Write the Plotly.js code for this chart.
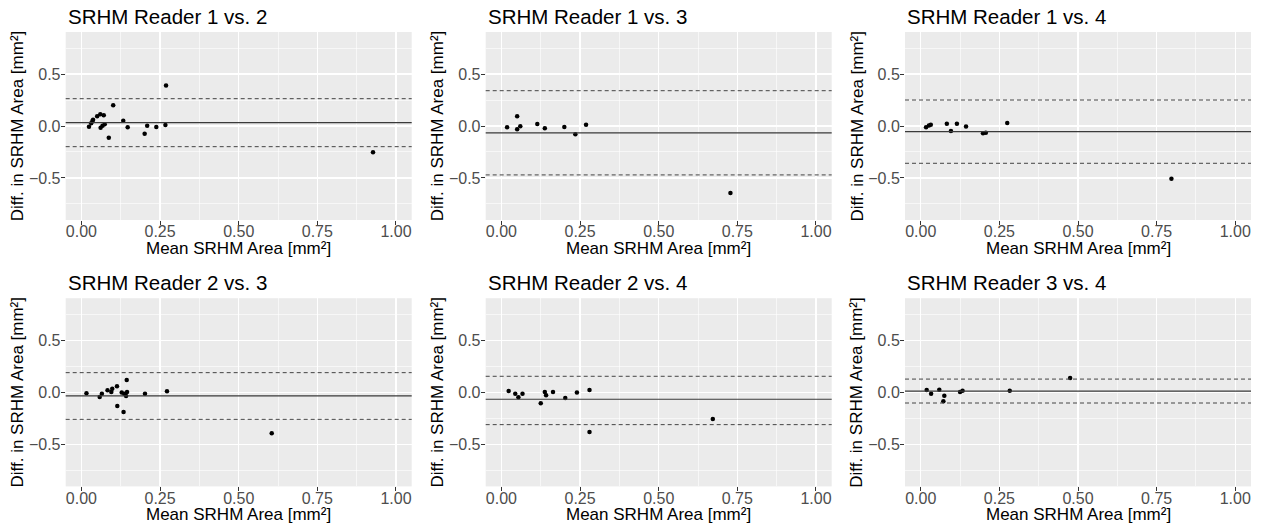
<!DOCTYPE html>
<html>
<head>
<meta charset="utf-8">
<script src="https://cdn.plot.ly/plotly-3.0.1.min.js"></script>
<style>html,body{margin:0;padding:0;background:#fff;}#chart{width:1263px;height:529px;}</style>
</head>
<body>
<div id="chart"></div>
<script>
// ---- Data (x = mean area, y = difference) ----
const panelTitles = ["SRHM Reader 1 vs. 2", "SRHM Reader 1 vs. 3", "SRHM Reader 1 vs. 4",
                     "SRHM Reader 2 vs. 3", "SRHM Reader 2 vs. 4", "SRHM Reader 3 vs. 4"];

const mean12 = [0.024, 0.031, 0.035, 0.037, 0.050, 0.060, 0.071, 0.101, 0.061, 0.067, 0.074, 0.087, 0.133, 0.147, 0.201, 0.209, 0.238, 0.267, 0.269, 0.927];
const diff12 = [-0.007, 0.026, 0.048, 0.061, 0.093, 0.112, 0.103, 0.199, -0.016, 0.003, 0.016, -0.112, 0.051, -0.013, -0.074, 0.003, -0.010, 0.010, 0.391, -0.253];

const mean13 = [0.018, 0.050, 0.050, 0.060, 0.114, 0.138, 0.200, 0.235, 0.269, 0.728];
const diff13 = [-0.013, 0.093, -0.032, -0.003, 0.019, -0.022, -0.010, -0.080, 0.013, -0.644];

const mean14 = [0.017, 0.026, 0.032, 0.083, 0.096, 0.115, 0.144, 0.198, 0.207, 0.275, 0.797];
const diff14 = [-0.013, 0.006, 0.013, 0.022, -0.048, 0.022, -0.006, -0.071, -0.064, 0.029, -0.507];

const mean23 = [0.016, 0.058, 0.065, 0.083, 0.095, 0.098, 0.113, 0.114, 0.128, 0.134, 0.136, 0.142, 0.144, 0.145, 0.202, 0.272, 0.605];
const diff23 = [-0.010, -0.045, -0.013, 0.019, 0.003, 0.035, 0.058, -0.132, -0.003, -0.189, -0.013, -0.036, 0.118, 0.003, -0.013, 0.009, -0.394];

const mean24 = [0.023, 0.044, 0.054, 0.067, 0.125, 0.138, 0.142, 0.164, 0.203, 0.240, 0.280, 0.280, 0.672];
const diff24 = [0.013, -0.013, -0.048, -0.013, -0.106, 0.003, -0.029, 0.003, -0.054, -0.003, 0.022, -0.381, -0.256];

const mean34 = [0.019, 0.033, 0.059, 0.075, 0.072, 0.125, 0.133, 0.283, 0.475];
const diff34 = [0.022, -0.013, 0.025, -0.033, -0.087, 0.003, 0.015, 0.015, 0.138];

// bias (mean difference) and limits of agreement per panel
const biasValues  = [0.032, -0.067, -0.054, -0.035, -0.067, 0.012];
const upperLoA    = [0.263, 0.340, 0.250, 0.189, 0.154, 0.127];
const lowerLoA    = [-0.199, -0.471, -0.359, -0.260, -0.311, -0.103];

const xTickVals = [0, 0.25, 0.5, 0.75, 1];
const yTickVals = [-0.5, 0, 0.5];
const xAxisLabel = "Mean SRHM Area [mm²]";
const yAxisLabel = "Diff. in SRHM Area [mm²]";

// ---- Layout ----
const W = 1263, H = 529;
const xDomPx = [[65.7, 411.7], [485.7, 831.7], [905, 1251]];
const yDomPx = [[32, 220], [298.2, 486.4]];

const allMeans = [mean12, mean13, mean14, mean23, mean24, mean34];
const allDiffs = [diff12, diff13, diff14, diff23, diff24, diff34];

const FONT = "Liberation Sans, Arial, Helvetica, sans-serif";
const traces = [];
const shapes = [];
const annotations = [];
const layout = {
  width: W, height: H,
  margin: {l: 0, r: 0, t: 0, b: 0},
  paper_bgcolor: "#ffffff",
  plot_bgcolor: "#EBEBEB",
  showlegend: false,
  font: {family: FONT, color: "#4D4D4D"},
};

for (let i = 0; i < 6; i++) {
  const row = Math.floor(i / 3), col = i % 3;
  const n = i + 1;
  const xa = n === 1 ? "x" : "x" + n;
  const ya = n === 1 ? "y" : "y" + n;
  const xKey = n === 1 ? "xaxis" : "xaxis" + n;
  const yKey = n === 1 ? "yaxis" : "yaxis" + n;
  const xd = [xDomPx[col][0] / W, xDomPx[col][1] / W];
  const yd = [1 - yDomPx[row][1] / H, 1 - yDomPx[row][0] / H];

  layout[xKey] = {
    domain: xd, anchor: ya, range: [-0.05, 1.05],
    tickvals: xTickVals, tickformat: ".2f",
    ticks: "outside", ticklen: 4, tickwidth: 1, tickcolor: "#333333",
    ticklabelstandoff: -7,
    tickfont: {size: 16, color: "#4D4D4D", family: FONT},
    showgrid: true, gridcolor: "#FFFFFF", gridwidth: 1.4,
    minor: {tickvals: [0.125, 0.375, 0.625, 0.875], showgrid: true, gridcolor: "#FFFFFF", gridwidth: 0.6, ticks: ""},
    zeroline: false, showline: false, fixedrange: true,
  };
  layout[yKey] = {
    domain: yd, anchor: xa, range: [-0.905, 0.905],
    tickvals: yTickVals, tickformat: ".1f",
    ticks: "outside", ticklen: 4, tickwidth: 1, tickcolor: "#333333",
    ticklabelstandoff: -3,
    tickfont: {size: 16, color: "#4D4D4D", family: FONT},
    showgrid: true, gridcolor: "#FFFFFF", gridwidth: 1.4,
    minor: {tickvals: [-0.75, -0.25, 0.25, 0.75], showgrid: true, gridcolor: "#FFFFFF", gridwidth: 0.6, ticks: ""},
    zeroline: false, showline: false, fixedrange: true,
  };

  // reference lines through the library's y scale
  shapes.push({type: "line", xref: xa + " domain", yref: ya, x0: 0, x1: 1, y0: upperLoA[i], y1: upperLoA[i],
               line: {color: "#444444", width: 1, dash: "4px,3px"}});
  shapes.push({type: "line", xref: xa + " domain", yref: ya, x0: 0, x1: 1, y0: lowerLoA[i], y1: lowerLoA[i],
               line: {color: "#444444", width: 1, dash: "4px,3px"}});
  shapes.push({type: "line", xref: xa + " domain", yref: ya, x0: 0, x1: 1, y0: biasValues[i], y1: biasValues[i],
               line: {color: "#3a3a3a", width: 1.2}});

  traces.push({
    type: "scatter", mode: "markers", x: allMeans[i], y: allDiffs[i],
    xaxis: xa, yaxis: ya, marker: {color: "#000000", size: 4.5}, hoverinfo: "x+y",
  });

  // panel title
  annotations.push({
    xref: "paper", yref: "paper", x: xd[0], y: 1 - (row === 0 ? 17 : 282) / H,
    xanchor: "left", yanchor: "middle", showarrow: false,
    text: panelTitles[i], font: {size: 20.5, color: "#000000", family: FONT},
  });
  // x axis title
  annotations.push({
    xref: "paper", yref: "paper", x: (xd[0] + xd[1]) / 2, y: 1 - (row === 0 ? 248 : 514) / H,
    xanchor: "center", yanchor: "middle", showarrow: false,
    text: xAxisLabel, font: {size: 17, color: "#000000", family: FONT},
  });
  // y axis title
  annotations.push({
    xref: "paper", yref: "paper", x: (xDomPx[col][0] - 48.5) / W, y: (yd[0] + yd[1]) / 2,
    xanchor: "center", yanchor: "middle", showarrow: false, textangle: -90,
    text: yAxisLabel, font: {size: 17, color: "#000000", family: FONT},
  });
}

layout.shapes = shapes;
layout.annotations = annotations;

Plotly.newPlot("chart", traces, layout, {displayModeBar: false, staticPlot: true});
</script>
</body>
</html>
